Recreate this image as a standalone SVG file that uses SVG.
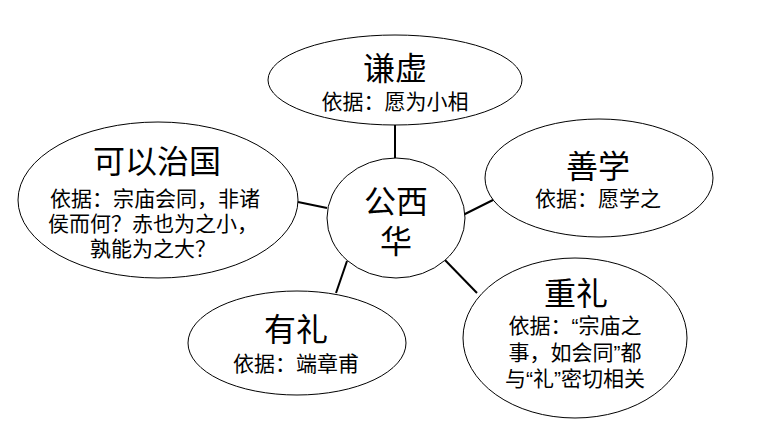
<svg xmlns="http://www.w3.org/2000/svg" width="769" height="443" viewBox="0 0 769 443">
<style>
.n{fill:#fff;stroke:#000;stroke-width:1}
.c{stroke:#000;stroke-width:2;fill:none}
.t{font-family:"Noto Sans CJK SC","Noto Sans",sans-serif;fill:#000;text-anchor:middle}
.h{font-size:32px}
.b{font-size:21px}
.q{font-family:"Liberation Sans",Arial,sans-serif}
</style>
<rect width="769" height="443" fill="#fff"/>
<g id="connectors">
<line class="c" x1="395" y1="125" x2="395" y2="158"/>
<line class="c" x1="298" y1="202" x2="327" y2="208"/>
<line class="c" x1="463" y1="215" x2="497" y2="198"/>
<line class="c" x1="443" y1="258" x2="477" y2="293"/>
<line class="c" x1="347" y1="261" x2="336" y2="293"/>
</g>
<g id="center">
<ellipse class="n" cx="396" cy="218" rx="69" ry="60"/>
<text class="t h" x="396" y="213">公西</text>
<text class="t h" x="396" y="253">华</text>
</g>
<g id="qianxu">
<ellipse class="n" cx="395" cy="80" rx="127" ry="45"/>
<text class="t h" x="395" y="80">谦虚</text>
<text class="t b" x="395" y="109">依据：愿为小相</text>
</g>
<g id="keyizhiguo">
<ellipse class="n" cx="158" cy="200" rx="140" ry="78"/>
<text class="t h" x="157" y="173">可以治国</text>
<text class="t b" x="155" y="206">依据：宗庙会同，非诸</text>
<text class="t b" x="153" y="231">侯而何？赤也为之小，</text>
<text class="t b" x="153" y="256">孰能为之大？</text>
</g>
<g id="shanxue">
<ellipse class="n" cx="599" cy="178" rx="114" ry="59"/>
<text class="t h" x="598" y="178">善学</text>
<text class="t b" x="598" y="206">依据：愿学之</text>
</g>
<g id="zhongli">
<ellipse class="n" cx="575" cy="338" rx="112" ry="80"/>
<text class="t h" x="576" y="305">重礼</text>
<text class="t b" x="575" y="333">依据：<tspan class="q">“</tspan>宗庙之</text>
<text class="t b" x="575" y="360">事，如会同<tspan class="q">”</tspan>都</text>
<text class="t b" x="575" y="386">与<tspan class="q">“</tspan>礼<tspan class="q">”</tspan>密切相关</text>
</g>
<g id="youli">
<ellipse class="n" cx="297" cy="343" rx="109" ry="52"/>
<text class="t h" x="296" y="341">有礼</text>
<text class="t b" x="296" y="371">依据：端章甫</text>
</g>
</svg>
